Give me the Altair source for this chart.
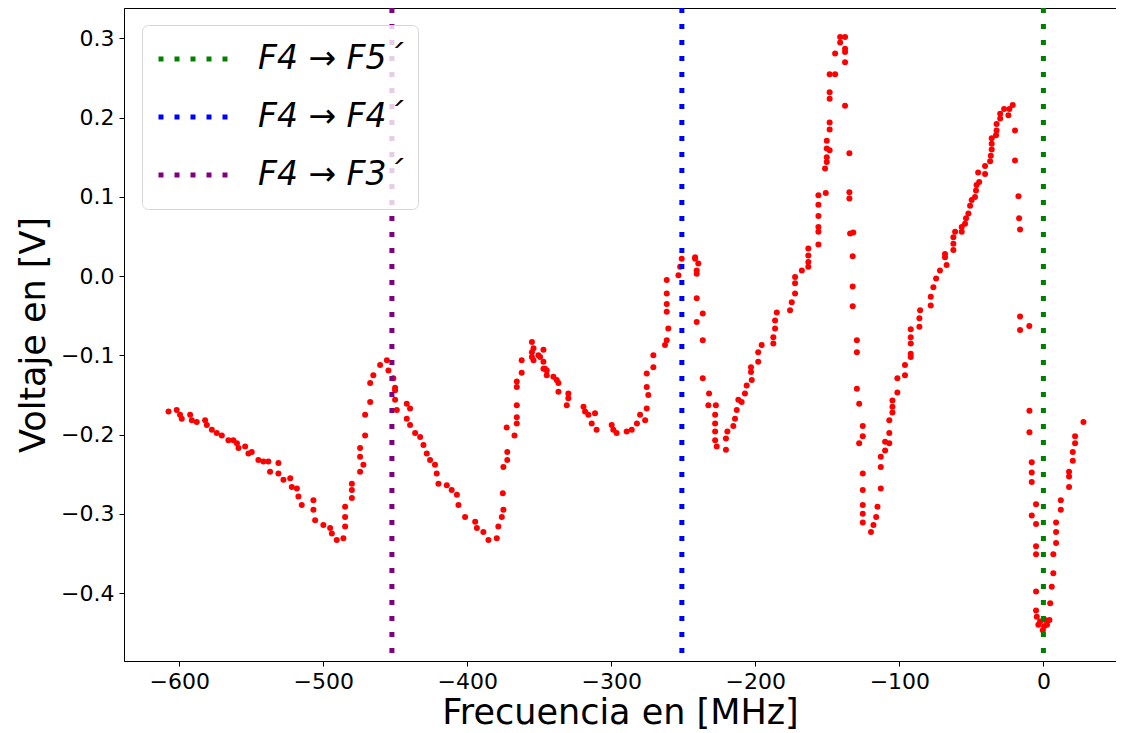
import altair as alt
import pandas as pd

freq = [
    -607.4, -601.7, -599.4, -598.2, -592.4, -591.2, -587.8, -582.0, -580.8, -577.3,
    -573.9, -570.4, -565.8, -562.4, -559.9, -558.8, -554.2, -551.9, -549.6, -545.0,
    -541.5, -538.1, -536.9, -531.1, -531.1, -527.6, -522.9, -521.8, -518.3, -517.2,
    -514.9, -506.8, -506.8, -505.6, -499.9, -495.2, -494.0, -490.6, -486.0, -484.8,
    -484.8, -484.8, -480.1, -480.1, -480.1, -474.4, -472.1, -474.4, -474.4, -470.9,
    -470.9, -467.4, -467.4, -465.2, -460.5, -455.8, -454.7, -451.3, -450.1, -450.1,
    -448.9,
    -450.1, -442.0, -439.7, -442.0, -439.7, -436.2, -432.7, -430.4, -428.1, -425.8,
    -422.4, -421.2, -420.0, -414.2, -410.8, -407.2, -406.1, -401.5, -394.5, -393.3,
    -388.8, -385.3, -379.5, -378.4, -376.0, -374.9, -375.3, -374.9, -372.2, -372.2,
    -372.6, -367.2, -365.6, -365.6, -365.6, -365.6, -365.6, -362.2, -362.2, -355.1,
    -355.1, -354.0, -349.4, -347.1, -347.1, -346.0, -344.8,
    -355.1, -354.0, -350.6, -347.1, -344.8, -340.2, -337.9, -336.7, -336.7, -329.8,
    -329.8, -330.9, -319.3, -318.2, -315.9, -311.3, -313.6, -310.2, -299.7, -298.6,
    -296.3, -289.3, -285.8, -282.2, -280.0, -276.5, -275.4, -274.3, -275.4, -275.4,
    -270.8, -270.8, -262.7, -261.5, -260.4, -261.5, -261.5, -261.5, -261.5, -253.4,
    -252.2, -251.1, -241.8, -240.7,
    -241.8, -239.6, -240.7, -240.7, -236.5, -240.7, -236.5, -236.5, -232.1, -232.6,
    -227.4, -227.9, -227.9, -227.9, -227.9, -226.8, -220.4, -220.4, -219.4, -215.3,
    -214.1, -212.9, -211.8, -209.5, -207.2, -206.0, -202.5, -203.0, -203.0, -198.0,
    -198.0, -195.6, -187.5, -187.5, -186.3, -186.3, -185.1, -175.9, -174.7, -172.4,
    -172.4, -172.4, -167.7, -163.2, -163.2, -163.2, -163.2, -156.2,
    -156.2, -156.2, -156.2, -156.2, -156.2, -151.1, -151.6, -150.4, -150.4, -148.4,
    -150.4, -150.4, -148.4, -148.4, -148.4, -148.4, -148.4, -144.6, -144.6, -141.1,
    -141.1, -137.7, -137.7, -137.7, -137.7, -137.7, -134.7, -134.7, -134.7, -134.2,
    -132.0, -132.4, -132.4, -132.4, -129.5,
    -129.5, -129.5, -127.9, -125.4, -125.4, -127.9, -125.4, -125.4, -125.4, -125.4,
    -125.4, -119.7, -118.0, -116.1, -115.2, -112.9, -112.9, -112.9, -109.9, -109.9,
    -107.0, -107.0, -107.0, -104.8, -104.8, -104.8, -101.4, -101.4, -96.1, -96.1,
    -92.1, -92.1, -92.1, -92.1, -92.1, -86.1, -86.1, -85.6, -78.2, -78.2,
    -76.4, -74.5, -71.8, -67.2, -68.3, -68.3, -62.5, -62.5, -62.5, -61.3,
    -56.7, -56.7, -54.4, -53.7, -52.1, -50.9, -49.8, -47.5, -46.8, -46.4,
    -44.6, -45.3, -40.5, -40.5, -37.0, -36.5, -35.9, -35.9, -35.9, -32.9,
    -32.5, -32.5, -30.0, -30.0, -27.3, -24.3, -23.6, -21.3, -19.7, -19.7,
    -17.3, -16.9, -16.2, -16.2, -16.2, -9.8,
    -9.7, -9.7, -8.1, -8.1, -8.1, -5.1, -8.1, -5.1, -5.1, -5.1,
    -5.1, -5.1, -4.6, -2.3, -3.5, -0.4, 0.5, 1.2, 2.5, 4.2,
    4.7, 5.8, 6.9, 6.9, 8.8, 8.8, 8.8, 12.1, 12.1, 17.8,
    17.8, 17.8, 20.4, 20.4, 22.0, 22.0, 27.8,
]
volt = [
    -0.171, -0.169, -0.175, -0.180, -0.175, -0.182, -0.184, -0.182, -0.188, -0.194,
    -0.198, -0.201, -0.207, -0.207, -0.211, -0.217, -0.215, -0.224, -0.222, -0.232,
    -0.234, -0.234, -0.247, -0.236, -0.249, -0.257, -0.255, -0.266, -0.268, -0.278,
    -0.289, -0.283, -0.295, -0.308, -0.314, -0.318, -0.325, -0.333, -0.331, -0.316,
    -0.304, -0.291, -0.280, -0.270, -0.262, -0.247, -0.238, -0.228, -0.217, -0.201,
    -0.175, -0.159, -0.135, -0.125, -0.112, -0.106, -0.119, -0.129, -0.144, -0.156,
    -0.169,
    -0.141, -0.161, -0.167, -0.180, -0.188, -0.198, -0.203, -0.213, -0.224, -0.232,
    -0.238, -0.249, -0.262, -0.264, -0.270, -0.276, -0.289, -0.304, -0.310, -0.318,
    -0.323, -0.333, -0.331, -0.316, -0.304, -0.295, -0.274, -0.241, -0.232, -0.222,
    -0.191, -0.201, -0.186, -0.178, -0.163, -0.140, -0.133, -0.122, -0.106, -0.083,
    -0.096, -0.106, -0.102, -0.093, -0.108, -0.117, -0.125,
    -0.102, -0.091, -0.100, -0.117, -0.119, -0.127, -0.131, -0.135, -0.146, -0.148,
    -0.154, -0.163, -0.165, -0.171, -0.175, -0.173, -0.186, -0.194, -0.188, -0.194,
    -0.198, -0.196, -0.194, -0.186, -0.175, -0.182, -0.167, -0.150, -0.140, -0.123,
    -0.115, -0.100, -0.087, -0.081, -0.066, -0.045, -0.035, -0.022, -0.005, 0.001,
    0.012, 0.022, 0.022, 0.007,
    0.024, 0.016, 0.003, -0.028, -0.047, -0.058, -0.081, -0.129, -0.148, -0.163,
    -0.163, -0.175, -0.186, -0.196, -0.207, -0.215, -0.219, -0.205, -0.196, -0.189,
    -0.180, -0.169, -0.156, -0.159, -0.148, -0.138, -0.131, -0.121, -0.115, -0.108,
    -0.096, -0.087, -0.085, -0.077, -0.066, -0.056, -0.046, -0.043, -0.033, -0.022,
    -0.009, -0.001, 0.007, 0.012, 0.018, 0.026, 0.035, 0.040,
    0.056, 0.062, 0.076, 0.090, 0.102, 0.105, 0.136, 0.144, 0.150, 0.159,
    0.161, 0.171, 0.185, 0.194, 0.224, 0.232, 0.255, 0.255, 0.281, 0.295,
    0.302, 0.302, 0.287, 0.283, 0.270, 0.215, 0.155, 0.106, 0.098, 0.054,
    0.055, 0.025, -0.013, -0.038, -0.081,
    -0.096, -0.142, -0.161, -0.189, -0.202, -0.211, -0.249, -0.270, -0.289, -0.300,
    -0.311, -0.323, -0.314, -0.304, -0.291, -0.268, -0.241, -0.228, -0.220, -0.209,
    -0.211, -0.198, -0.182, -0.172, -0.165, -0.157, -0.147, -0.129, -0.125, -0.112,
    -0.102, -0.098, -0.085, -0.077, -0.067, -0.064, -0.053, -0.043, -0.037, -0.026,
    -0.014, -0.003, 0.007, 0.014, 0.024, 0.028, 0.033, 0.041, 0.049, 0.056,
    0.056, 0.062, 0.066, 0.073, 0.079, 0.089, 0.096, 0.100, 0.108, 0.115,
    0.119, 0.131, 0.129, 0.139, 0.145, 0.152, 0.160, 0.167, 0.174, 0.178,
    0.184, 0.192, 0.199, 0.205, 0.211, 0.203, 0.211, 0.216, 0.184, 0.146,
    0.101, 0.073, 0.059, -0.051, -0.068, -0.063,
    -0.170, -0.197, -0.235, -0.248, -0.260, -0.288, -0.302, -0.313, -0.341, -0.351,
    -0.398, -0.422, -0.430, -0.436, -0.440, -0.447, -0.442, -0.434, -0.440, -0.434,
    -0.413, -0.392, -0.375, -0.351, -0.337, -0.323, -0.311, -0.295, -0.283, -0.266,
    -0.253, -0.247, -0.233, -0.222, -0.211, -0.202, -0.184,
]

# Transition markers
line_pos = [0.0, -251.0, -452.3]
line_labels = ["F4 → F5´", "F4 → F4´", "F4 → F3´"]
line_colors = ["#008000", "#0000ff", "#800080"]

x_ticks = [-600, -500, -400, -300, -200, -100, 0]
y_ticks = [-0.4, -0.3, -0.2, -0.1, 0.0, 0.1, 0.2, 0.3]

df = pd.DataFrame({"f": freq, "v": volt})
lines = pd.DataFrame({"f": line_pos, "label": line_labels})

x_scale = alt.Scale(domain=[-638.3, 50.4], nice=False, zero=False)
y_scale = alt.Scale(domain=[-0.4858, 0.3385], nice=False, zero=False)

points = alt.Chart(df).mark_circle(size=36, color="#ff0000", opacity=1).encode(
    x=alt.X("f:Q", scale=x_scale,
            axis=alt.Axis(title="Frecuencia en [MHz]", values=x_ticks, format="d",
                          titlePadding=3)),
    y=alt.Y("v:Q", scale=y_scale,
            axis=alt.Axis(title="Voltaje en [V]", values=y_ticks, format=".1f",
                          titlePadding=9)),
)

rules = alt.Chart(lines).mark_rule(strokeWidth=5, strokeDash=[5, 11], strokeCap="butt").encode(
    x=alt.X("f:Q", scale=x_scale),
    color=alt.Color(
        "label:N",
        scale=alt.Scale(domain=line_labels, range=line_colors),
        legend=alt.Legend(
            title=None,
            orient="none",
            legendX=18,
            legendY=17,
            symbolType="stroke",
            symbolSize=4900,
            symbolStrokeWidth=5,
            symbolDash=[5, 11],
            labelFontSize=33,
            labelFont="DejaVu Sans",
            labelFontStyle="italic",
            labelColor="#000000",
            labelOffset=27,
            padding=14,
            clipHeight=40,
            rowPadding=18,
            fillColor="rgba(255,255,255,0.8)",
            strokeColor="#d6d6d6",
            cornerRadius=6,
        ),
    ),
)

chart = (
    alt.layer(points, rules)
    .properties(width=992, height=653,
                autosize=alt.AutoSizeParams(type="none"),
                padding={"left": 116, "top": 0, "right": 0, "bottom": 72})
    .configure_view(stroke="#000000", strokeWidth=1)
    .configure_axis(
        grid=False,
        labelFont="DejaVu Sans",
        labelFontSize=22,
        labelColor="#000000",
        labelPadding=5,
        titleFont="DejaVu Sans",
        titleFontSize=35,
        titleFontWeight="normal",
        titleColor="#000000",
        tickColor="#000000",
        tickSize=5,
        tickWidth=1,
        domainColor="#000000",
        domainWidth=1,
    )
)

chart.save("out.html", embed_options={"renderer": "svg", "actions": False})
